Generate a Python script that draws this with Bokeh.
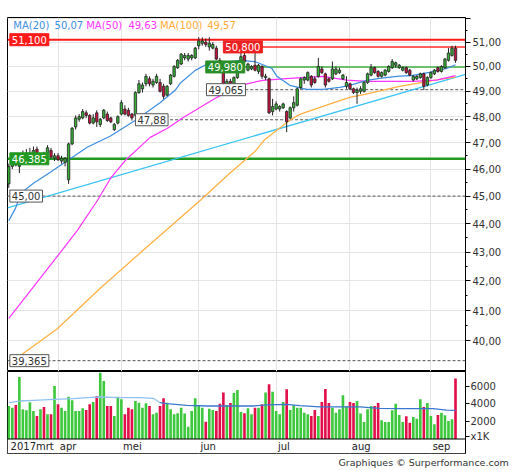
from bokeh.plotting import figure
from bokeh.models import (FixedTicker, CustomJSTickFormatter, Range1d, Label, Span,
                          Title, ColumnDataSource, BoxAnnotation)
from bokeh.layouts import column
from bokeh.embed import file_html
from bokeh.resources import INLINE
from bokeh.core.properties import value

# ---------------- data ----------------
opens = [45.45, 46.1, 46.3, 46.1, 46.4, 46.45, 46.5, 46.55, 46.75, 46.4,
         46.55, 46.6, 46.7, 46.4, 46.5, 46.3, 46.25, 45.6, 46.95, 47.6,
         47.9, 47.95, 48.15, 48.05, 47.75, 48.15, 47.7, 47.95, 48.1, 47.95,
         47.5, 47.75, 48.1, 48.3, 48.25, 48.1, 48.05, 48.95, 49.1, 49.3,
         49.5, 49.25, 49.35, 49.35, 49.2, 48.85, 49.3, 49.6, 49.95, 50.1,
         50.35, 50.3, 50.35, 50.35, 50.85, 50.95, 51.0, 50.8, 50.75, 50.75,
         50.25, 50.05, 49.25, 49.4, 49.3, 49.55, 49.95, 50.45, 49.85, 49.9,
         50.05, 49.8, 50.0, 49.55, 49.5, 48.2, 48.3, 48.3, 48.35, 48.2,
         47.95, 48.35, 48.45, 49.15, 49.45, 49.45, 49.6, 49.5, 49.6, 49.9,
         49.7, 49.5, 49.5, 49.7, 49.75, 49.5, 49.2, 49.3, 49.1, 48.95,
         49.0, 49.0, 49.35, 49.65, 49.95, 49.8, 49.6, 49.65, 49.8, 49.95,
         50.05, 49.95, 49.85, 49.95, 49.85, 49.45, 49.5, 49.55, 49.7, 49.25,
         49.55, 49.7, 49.95, 49.8, 49.95, 50.25, 50.45, 50.75]
highs = [46.2, 46.35, 46.4, 46.55, 46.7, 46.75, 46.8, 46.85, 46.85, 46.6,
         46.65, 46.9, 46.8, 46.6, 46.6, 46.5, 46.45, 47.0, 47.6, 48.05,
         48.1, 48.3, 48.25, 48.1, 48.1, 48.25, 47.95, 48.3, 48.2, 48.0,
         47.75, 48.05, 48.65, 48.45, 48.35, 48.15, 49.0, 49.45, 49.35, 49.7,
         49.6, 49.5, 49.7, 49.5, 49.3, 49.25, 49.7, 50.05, 50.3, 50.55,
         50.55, 50.55, 50.5, 50.8, 51.2, 51.2, 51.15, 51.2, 51.0, 50.85,
         50.35, 50.1, 49.5, 49.5, 49.6, 50.0, 50.55, 50.6, 50.15, 50.05,
         50.75, 50.1, 50.05, 49.7, 49.55, 48.7, 48.6, 48.45, 48.55, 48.25,
         48.4, 48.8, 49.15, 49.55, 49.6, 49.8, 49.65, 49.6, 50.35, 50.0,
         49.75, 49.55, 50.2, 50.0, 49.95, 49.7, 49.6, 49.35, 49.15, 49.15,
         49.2, 49.4, 49.75, 50.1, 50.0, 49.85, 49.8, 49.9, 50.05, 50.3,
         50.2, 50.1, 50.0, 50.0, 49.9, 49.65, 49.65, 49.75, 49.75, 49.6,
         49.8, 49.9, 50.0, 50.05, 50.35, 50.75, 50.85, 50.85]
lows = [45.3, 46.0, 46.1, 45.85, 46.3, 46.4, 46.45, 46.5, 46.5, 46.3,
        46.35, 46.5, 46.4, 46.3, 46.3, 46.2, 46.1, 45.45, 46.9, 47.5,
        47.8, 47.9, 47.95, 47.7, 47.7, 47.6, 47.6, 47.9, 47.8, 47.75,
        47.45, 47.7, 48.05, 48.05, 48.0, 47.85, 48.0, 48.9, 48.95, 49.2,
        49.2, 49.15, 49.3, 48.95, 48.7, 48.8, 49.25, 49.55, 49.9, 50.05,
        50.25, 50.2, 50.25, 50.3, 50.7, 50.85, 50.8, 50.65, 50.7, 50.25,
        49.9, 49.25, 49.1, 49.2, 49.25, 49.5, 49.9, 50.15, 49.8, 49.85,
        49.8, 49.7, 49.5, 49.45, 48.1, 48.05, 48.25, 48.2, 48.3, 47.4,
        47.9, 48.2, 48.4, 49.1, 49.3, 49.4, 49.15, 49.3, 49.55, 49.7,
        49.15, 49.35, 49.45, 49.65, 49.7, 49.45, 49.1, 49.05, 48.9, 48.5,
        48.9, 48.95, 49.3, 49.6, 49.7, 49.55, 49.55, 49.6, 49.75, 49.9,
        49.95, 49.9, 49.8, 49.7, 49.6, 49.4, 49.45, 49.5, 49.05, 49.2,
        49.5, 49.65, 49.75, 49.75, 49.9, 50.2, 50.4, 50.15]
closes = [46.1, 46.25, 46.15, 46.45, 46.55, 46.6, 46.6, 46.7, 46.6, 46.5,
          46.4, 46.8, 46.45, 46.5, 46.35, 46.4, 46.4, 46.95, 47.55, 47.95,
          48.0, 48.2, 48.05, 47.75, 47.95, 47.8, 47.9, 48.25, 47.85, 47.8,
          47.7, 48.0, 48.55, 48.1, 48.05, 47.95, 48.95, 49.3, 49.25, 49.6,
          49.3, 49.4, 49.6, 49.0, 48.8, 49.2, 49.65, 50.0, 50.25, 50.5,
          50.45, 50.45, 50.45, 50.75, 51.05, 51.05, 50.9, 50.95, 50.9, 50.3,
          49.95, 49.3, 49.4, 49.3, 49.55, 49.95, 50.4, 50.2, 50.1, 50.0,
          49.85, 50.05, 49.6, 49.6, 48.15, 48.4, 48.5, 48.4, 48.5, 47.8,
          48.35, 48.55, 49.1, 49.5, 49.55, 49.75, 49.25, 49.35, 50.0, 49.75,
          49.25, 49.4, 49.9, 49.9, 49.85, 49.65, 49.35, 49.1, 48.95, 49.05,
          49.1, 49.35, 49.7, 49.95, 49.75, 49.6, 49.75, 49.85, 50.0, 50.2,
          50.15, 50.05, 49.95, 49.75, 49.65, 49.6, 49.6, 49.7, 49.2, 49.55,
          49.75, 49.85, 49.8, 50.0, 50.3, 50.55, 50.75, 50.25]
volumes = [3770, 3580, 3890, 7090, 3390, 3280, 4190, 3200, 2630, 3390,
           3660, 2820, 2820, 6060, 3960, 3580, 3200, 4840, 4420, 3200,
           3200, 3500, 3310, 3960, 4230, 4910, 7580, 6630, 3770, 3770,
           2630, 4840, 4530, 2820, 3580, 3390, 4340, 4150, 3580, 4080,
           3770, 2820, 3010, 3770, 4650, 4150, 3390, 2820, 2930, 3580,
           2900, 1410, 3200, 4650, 3890, 3580, 1980, 3470, 3310, 3200,
           4040, 5300, 3850, 4110, 5260, 5600, 3090, 2930, 3500, 2820,
           3580, 3580, 3960, 5300, 6250, 5410, 3200, 2820, 4230, 5680,
           3310, 3850, 3580, 3580, 3010, 2820, 2630, 3310, 2630, 4230,
           5710, 4110, 3580, 3010, 3390, 4990, 3700, 4230, 4110, 4340,
           2900, 1940, 3390, 3770, 3770, 4110, 2130, 1940, 1940, 3280,
           4040, 2740, 1940, 2590, 1870, 2510, 2320, 4530, 3660, 4110,
           2630, 1680, 2740, 3010, 2700, 2060, 2250, 6900]

# moving averages, read at points along the curves (trading-day index, price)
ma20_x = [0, 2, 3.3, 7, 11.8, 16.7, 22.3, 28.9, 35.9, 43, 47.3, 48.7, 53, 56.7,
          66.3, 69.9, 72.8, 74.8, 76.2, 79.9, 84.7, 89.3, 94.1, 96.9, 101.8,
          105.4, 110.3, 114.8, 119.6, 124.5, 127]
ma20_y = [44.11, 44.58, 45.09, 45.47, 45.88, 46.32, 46.82, 47.25, 47.85, 48.55,
          49.04, 49.32, 49.84, 50.12, 50.25, 50.2, 50.04, 49.92, 49.6, 49.24,
          49.08, 49.08, 49.16, 49.24, 49.44, 49.52, 49.6, 49.64, 49.76, 49.92, 50.07]
ma50_x = [0, 7, 15.5, 19.5, 25.2, 28.9, 33.1, 40.2, 45, 49.6, 59.2, 65.7, 72.2,
          79.9, 89.3, 96.1, 101.8, 107.4, 114.8, 121.6, 127]
ma50_y = [40.74, 41.8, 43.12, 43.76, 44.84, 45.65, 46.32, 47.2, 47.54, 47.97,
          48.76, 49.24, 49.44, 49.52, 49.6, 49.45, 49.4, 49.4, 49.4, 49.45, 49.63]
ma100_x = [0, 3.3, 13.8, 26, 38.2, 54.4, 62.9, 69.9, 72.8, 79.9, 82.7, 91.8,
           96.9, 101.2, 111.1, 122.5, 127]
ma100_y = [39.25, 39.53, 40.4, 41.75, 43.06, 44.84, 45.85, 46.65, 47.12, 47.86,
           48.09, 48.52, 48.76, 48.88, 49.2, 49.48, 49.57]
ma_last = ["50,07", "49,63", "49,57"]

# trend line (two end points)
trend_x = [-0.37, 129.84]
trend_y = [44.57, 49.68]

# volume average
vma_x = [0, 3.3, 7.1, 12.8, 18.4, 22.2, 26, 31.7, 37.4, 41.1, 43, 44.9, 50.6,
         56.3, 63.9, 69.5, 73.3, 78.9, 82.7, 88.4, 94.1, 99.8, 105.4, 111.1,
         116.8, 120.6, 124.4, 127]
vma_y = [4150, 4340, 4420, 4530, 4610, 4720, 4800, 4720, 4720, 4650, 4150, 4040,
         3850, 3770, 3770, 3770, 3890, 3960, 3810, 3660, 3660, 3660, 3500, 3470,
         3470, 3470, 3310, 3280]

# horizontal levels
solid_levels = [51.1, 50.8, 49.98, 46.385]
solid_start = [-0.37, 70.8, 65.8, -0.37]
dash_levels = [49.065, 47.88, 45.0, 39.365]
dash_start = [65.8, 43.0, -0.37, -0.37]
level_texts = ["51,100", "50,800", "49,980", "46,385", "49,065", "47,88", "45,00", "39,365"]
level_vals = [51.1, 50.8, 49.98, 46.385, 49.065, 47.88, 45.0, 39.365]
level_label_x = [0.3, 61.0, 56.0, 0.3, 56.2, 36.0, 0.3, 0.3]

month_labels = ["2017mrt", "apr", "mei", "jun", "jul", "aug", "sep"]
month_start = [0, 14, 32, 54, 76, 97, 120]
price_ticks = [40, 41, 42, 43, 44, 45, 46, 47, 48, 49, 50, 51, 52]
vol_ticks = [2000, 4000, 6000]
vol_unit = "x1K"

# ---------------- styling ----------------
FONT = "DejaVu Sans"
GREEN = "#36b236"
RED = "#c8123e"
VGREEN = "#3ec83e"
VRED = "#e2104a"
GRID = "#e4e4e4"
X0, X1 = -0.37, 129.84
xr = Range1d(X0, X1)
n = len(closes)
idx = list(range(n))
up = [c >= o for o, c in zip(opens, closes)]

p1 = figure(frame_width=458, frame_height=354, x_range=xr,
            y_range=Range1d(39.02, 52.03), y_axis_type="log",
            y_axis_location="right", x_axis_location=None,
            output_backend="svg", toolbar_location=None,
            min_border_top=17, min_border_left=7, min_border_bottom=0, min_border_right=47)
p1.outline_line_color = "black"
p1.outline_line_alpha = 1
p1.ygrid.ticker = FixedTicker(ticks=price_ticks)
p1.xgrid.ticker = FixedTicker(ticks=month_start[1:])
for g in (p1.xgrid, p1.ygrid):
    g.grid_line_color = GRID
ax = p1.yaxis[0]
ax.ticker = FixedTicker(ticks=price_ticks,
                        minor_ticks=[t + 0.5 for t in price_ticks[:-1]])
ax.formatter = CustomJSTickFormatter(
    code="return tick > 51.5 ? '' : tick.toFixed(2).replace('.', ',');")
ax.major_label_text_font = FONT
ax.major_label_text_font_size = "10px"
ax.major_label_text_color = "#333333"
ax.major_label_standoff = 2
ax.axis_line_color = "black"
ax.major_tick_line_color = "black"
ax.major_tick_out = 5
ax.major_tick_in = 0
ax.minor_tick_out = 2
ax.minor_tick_in = 0
ax.minor_tick_line_color = "black"

# levels
p1.segment(x0=solid_start, y0=solid_levels, x1=[X1] * len(solid_levels), y1=solid_levels,
           line_color=["#ff1a1a", "#ff2a2a", "#6cc06c", "#229a22"],
           line_width=[2, 1.5, 2, 2.5])
p1.segment(x0=dash_start, y0=dash_levels, x1=[X1] * len(dash_levels), y1=dash_levels,
           line_color="#555555", line_width=1, line_dash="3 2")

# moving averages & trend
p1.line(trend_x, trend_y, line_color="#3cc4f4", line_width=1.3)
p1.line(ma100_x, ma100_y, line_color="#ffb040", line_width=1.2)
p1.line(ma50_x, ma50_y, line_color="#ff33ff", line_width=1.2)
p1.line(ma20_x, ma20_y, line_color="#3d8ee0", line_width=1.2)

# candles
src = ColumnDataSource(dict(
    x=idx, h=highs, l=lows,
    top=[max(o, c) for o, c in zip(opens, closes)],
    bottom=[min(o, c) for o, c in zip(opens, closes)],
    color=[GREEN if u else RED for u in up]))
p1.segment(x0="x", y0="h", x1="x", y1="l", source=src, line_color="#222222", line_width=1)
p1.vbar(x="x", width=0.68, top="top", bottom="bottom", fill_color="color",
        line_color="#222222", line_width=0.8, source=src)

# level labels
box_style = {
    "51,100": ("#ff1a1a", "white", "#ff1a1a"),
    "50,800": ("#ee2222", "white", "#ee2222"),
    "49,980": ("#2a8f2a", "white", "#2a8f2a"),
    "46,385": ("#229a22", "white", "#229a22"),
}
for txt, v, lx in zip(level_texts, level_vals, level_label_x):
    bg, fg, bd = box_style.get(txt, ("white", "#333333", "#555555"))
    p1.add_layout(Label(x=lx, y=v, text=txt, text_font=FONT, text_font_size="10px",
                        text_color=fg, text_align="left", text_baseline="middle",
                        background_fill_color=bg, border_line_color=bd,
                        padding=2))

# MA legend
leg_items = [("MA(20)", 1.3, "#3d8ee0"), (ma_last[0], 13.0, "#3d8ee0"),
             ("MA(50)", 22.0, "#ff33ff"), (ma_last[1], 34.0, "#ff33ff"),
             ("MA(100)", 43.0, "#ffaa33"), (ma_last[2], 56.4, "#ffaa33")]
for txt, lx, col in leg_items:
    p1.add_layout(Label(x=lx, y=51.70, text=txt, text_font=FONT, text_font_size="10px",
                        text_color=col, text_align="left", text_baseline="middle"))

# ---------------- volume panel ----------------
V0, V1 = -1657, 7714
p2 = figure(frame_width=458, frame_height=82, x_range=xr, y_range=Range1d(V0, V1),
            y_axis_location="right", x_axis_location=None,
            output_backend="svg", toolbar_location=None,
            min_border_top=0, min_border_left=7, min_border_bottom=0, min_border_right=47)
p2.outline_line_color = "black"
p2.ygrid.visible = False
p2.xgrid.ticker = FixedTicker(ticks=month_start[1:])
p2.xgrid.grid_line_color = GRID
ay = p2.yaxis[0]
ay.ticker = FixedTicker(ticks=[340] + vol_ticks)
ay.formatter = CustomJSTickFormatter(
    args=dict(unit=vol_unit),
    code="return tick < 1000 ? unit : tick.toFixed(0);")
ay.major_label_text_font = FONT
ay.major_label_text_font_size = "10px"
ay.major_label_text_color = "#333333"
ay.major_label_standoff = 1
ay.axis_line_color = "black"
ay.major_tick_out = 4
ay.major_tick_in = 0

p2.vbar(x=idx, top=volumes, width=0.75,
        fill_color=[VGREEN if u else VRED for u in up], line_color=None)
k = 11
p2.line(vma_x[:k], vma_y[:k], line_color="#8fc2f2", line_width=1.3)
p2.line(vma_x[k - 1:], vma_y[k - 1:], line_color="#3a78d0", line_width=1.3)

p2.add_layout(BoxAnnotation(top=0, fill_color="white", fill_alpha=1.0,
                            line_color=None, level="underlay"))
p2.add_layout(Span(location=0, dimension="width", line_color="black", line_width=1))
p2.text(x=[m + 0.5 for m in month_start], y=[-880] * len(month_start), text=month_labels,
        text_font=value(FONT), text_font_size="10px", text_color="#222222",
        text_align="left", text_baseline="middle")
p2.add_layout(Title(text="Graphiques \u00a9 Surperformance.com", text_font=FONT,
                    text_font_size="9.5px", text_font_style="normal",
                    text_color="#333333", align="left", offset=331, standoff=3),
              "below")

layout = column(p1, p2, spacing=0)
open("out.html", "w").write(file_html(layout, INLINE))
